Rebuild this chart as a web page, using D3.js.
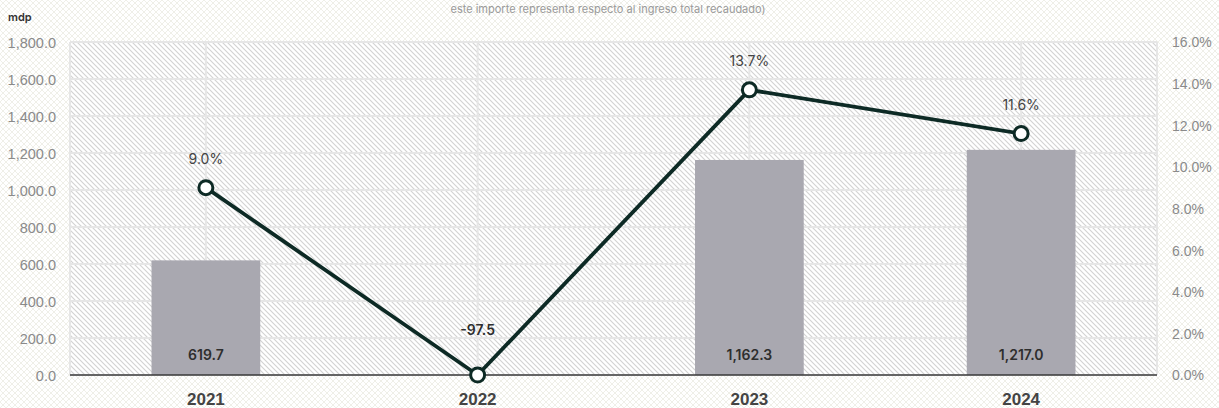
<!DOCTYPE html>
<html>
<head>
<meta charset="utf-8">
<script src="https://cdn.jsdelivr.net/npm/d3@7"></script>
<style>
  body { margin: 0; background: #fff; }
  svg { display: block; font-family: Inter, "Liberation Sans", sans-serif; }
</style>
</head>
<body>
<script>
// data
let years = ["2021", "2022", "2023", "2024"];
let amounts = [619.7, -97.5, 1162.3, 1217.0];
let amountLabels = ["619.7", "-97.5", "1,162.3", "1,217.0"];
let shares = [9.0, 0.0, 13.7, 11.6];
let shareLabels = ["9.0%", "", "13.7%", "11.6%"];
let leftTicks = [0, 200, 400, 600, 800, 1000, 1200, 1400, 1600, 1800];
let rightTicks = [0, 2, 4, 6, 8, 10, 12, 14, 16];

let width = 1219, height = 408;
let margin = {top: 42, right: 62, bottom: 33, left: 70};

let svg = d3.select("body").append("svg")
    .attr("width", width)
    .attr("height", height);

let defs = svg.append("defs");

// faint crosshatch behind everything
let bgPat = defs.append("pattern")
    .attr("id", "bg")
    .attr("width", 6).attr("height", 6)
    .attr("patternUnits", "userSpaceOnUse");
bgPat.append("rect").attr("width", 6).attr("height", 6).attr("fill", "#ffffff");
bgPat.append("path").attr("d", "M0,0L6,6M6,0L0,6")
    .attr("stroke", "#efefe8").attr("stroke-width", 1);

// diagonal hatch inside the plot
let hatch = defs.append("pattern")
    .attr("id", "hatch")
    .attr("width", 5).attr("height", 5)
    .attr("patternUnits", "userSpaceOnUse");
hatch.append("rect").attr("width", 5).attr("height", 5).attr("fill", "#ffffff");
hatch.append("path").attr("d", "M-1,-1L6,6M-1,4L1,6M4,-1L6,1")
    .attr("stroke", "#d2d2d2").attr("stroke-width", 1.1);

svg.append("rect").attr("width", width).attr("height", height).attr("fill", "url(#bg)");

let x = d3.scaleBand()
    .domain(years)
    .range([margin.left, width - margin.right])
    .paddingInner(0.6).paddingOuter(0.3);

let y = d3.scaleLinear()
    .domain([0, 1800])
    .range([height - margin.bottom, margin.top]);

let y2 = d3.scaleLinear()
    .domain([0, 16])
    .range([height - margin.bottom, margin.top]);

let cx = d => x(d) + x.bandwidth() / 2;

// plot background
svg.append("rect")
    .attr("x", margin.left).attr("y", margin.top)
    .attr("width", width - margin.left - margin.right)
    .attr("height", height - margin.top - margin.bottom)
    .attr("fill", "url(#hatch)");

// gridlines
let grid = svg.append("g");
grid.selectAll("line.h")
    .data(leftTicks)
    .enter().append("line")
    .attr("class", "h")
    .attr("x1", margin.left).attr("x2", width - margin.right)
    .attr("y1", d => y(d)).attr("y2", d => y(d))
    .attr("stroke", "#e6e6e6").attr("stroke-width", 2);
grid.selectAll("line.v")
    .data(years)
    .enter().append("line")
    .attr("class", "v")
    .attr("x1", d => cx(d)).attr("x2", d => cx(d))
    .attr("y1", margin.top).attr("y2", height - margin.bottom)
    .attr("stroke", "#e6e6e6").attr("stroke-width", 2);
grid.selectAll("line.edge")
    .data([margin.left, width - margin.right])
    .enter().append("line")
    .attr("class", "edge")
    .attr("x1", d => d).attr("x2", d => d)
    .attr("y1", margin.top).attr("y2", height - margin.bottom)
    .attr("stroke", "#e6e6e6").attr("stroke-width", 2);

// bars (negative value sits below the axis floor, so clamp at 0)
svg.append("g").selectAll("rect")
    .data(years)
    .enter().append("rect")
    .attr("x", d => x(d))
    .attr("width", x.bandwidth())
    .attr("y", (d, i) => y(Math.max(0, amounts[i])))
    .attr("height", (d, i) => y(0) - y(Math.max(0, amounts[i])))
    .attr("fill", "#a9a8b0");

// left axis
let yAxis = d3.axisLeft(y)
    .tickValues(leftTicks)
    .tickSize(0)
    .tickPadding(14)
    .tickFormat(d3.format(",.1f"));
let gy = svg.append("g")
    .attr("transform", `translate(${margin.left},0)`)
    .call(yAxis);
gy.select(".domain").remove();
gy.selectAll("text")
    .attr("fill", "#8a8a8a")
    .style("font-size", "14.5px")
    .attr("dy", "0.35em");

// right axis
let y2Axis = d3.axisRight(y2)
    .tickValues(rightTicks)
    .tickSize(0)
    .tickPadding(15)
    .tickFormat(d => d3.format(".1f")(d) + "%");
let gy2 = svg.append("g")
    .attr("transform", `translate(${width - margin.right},0)`)
    .call(y2Axis);
gy2.select(".domain").remove();
gy2.selectAll("text")
    .attr("fill", "#8a8a8a")
    .style("font-size", "14px")
    .attr("dy", "0.35em");

// baseline
svg.append("line")
    .attr("x1", margin.left).attr("x2", width - margin.right)
    .attr("y1", y(0)).attr("y2", y(0))
    .attr("stroke", "#3a3a3a").attr("stroke-width", 1.5);

// x axis labels
let xAxis = d3.axisBottom(x).tickSize(0).tickPadding(18);
let gx = svg.append("g")
    .attr("transform", `translate(0,${y(0)})`)
    .call(xAxis);
gx.select(".domain").remove();
gx.selectAll("text")
    .attr("fill", "#444")
    .style("font-size", "17px")
    .style("font-weight", "600");

// bar value labels
svg.append("g").selectAll("text")
    .data(years)
    .enter().append("text")
    .attr("x", d => cx(d))
    .attr("y", (d, i) => amounts[i] < 0 ? y(0) - 40 : y(0) - 15)
    .attr("text-anchor", "middle")
    .attr("fill", "#2e2e2e")
    .style("font-size", "14px")
    .style("font-weight", "600")
    .text((d, i) => amountLabels[i]);

// share line
let line = d3.line()
    .x(d => cx(d))
    .y((d, i) => y2(shares[i]));
svg.append("path")
    .datum(years)
    .attr("d", line)
    .attr("fill", "none")
    .attr("stroke", "#0d2a25")
    .attr("stroke-width", 3.8)
    .attr("stroke-linejoin", "round");

svg.append("g").selectAll("circle")
    .data(years)
    .enter().append("circle")
    .attr("cx", d => cx(d))
    .attr("cy", (d, i) => y2(shares[i]))
    .attr("r", 7)
    .attr("fill", "#fff")
    .attr("stroke", "#0d2a25")
    .attr("stroke-width", 3);

svg.append("g").selectAll("text")
    .data(years)
    .enter().append("text")
    .attr("x", d => cx(d))
    .attr("y", (d, i) => y2(shares[i]) - 24)
    .attr("text-anchor", "middle")
    .attr("fill", "#444")
    .style("font-size", "14px")
    .text((d, i) => shareLabels[i]);

// unit and subtitle
svg.append("text")
    .attr("x", 8).attr("y", 21)
    .attr("fill", "#333")
    .style("font-size", "11px")
    .style("font-weight", "600")
    .text("mdp");

svg.append("text")
    .attr("x", 608).attr("y", 13)
    .attr("text-anchor", "middle")
    .attr("fill", "#9a9a9a")
    .style("font-size", "11px")
    .text("este importe representa respecto al ingreso total recaudado)");
</script>
</body>
</html>
